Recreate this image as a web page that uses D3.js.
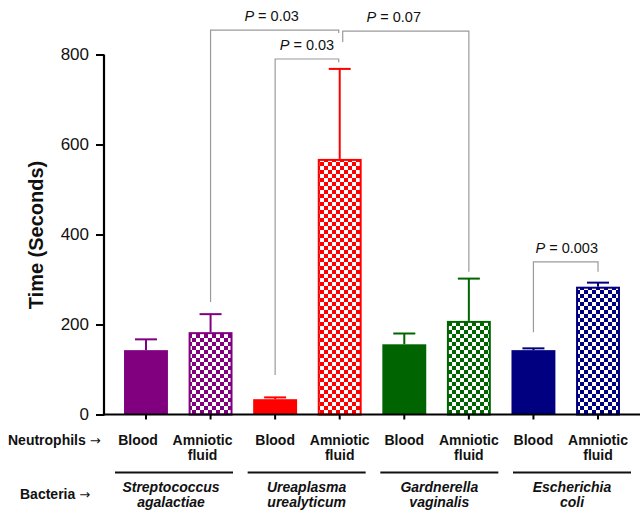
<!DOCTYPE html>
<html>
<head>
<meta charset="utf-8">
<script src="https://cdn.jsdelivr.net/npm/d3@7"></script>
<style>
  html, body { margin: 0; padding: 0; background: #fff; }
  svg { display: block; font-family: Arial, "Liberation Sans", sans-serif; }
</style>
</head>
<body>
<svg id="chart" width="641" height="513"></svg>
<script>
// ---- data ----
const bacteria = ["Streptococcus agalactiae", "Ureaplasma urealyticum", "Gardnerella vaginalis", "Escherichia coli"];
const bacteriaLines = [["Streptococcus", "agalactiae"], ["Ureaplasma", "urealyticum"], ["Gardnerella", "vaginalis"], ["Escherichia", "coli"]];
const neutrophils = ["Blood", "Amniotic fluid"];
const neutrophilLines = [["Blood"], ["Amniotic", "fluid"]];
const bloodMeans = [143, 34, 156, 143];
const bloodErr = [24, 4, 24, 4];
const fluidMeans = [183, 568, 208, 284];
const fluidErr = [40, 200, 94, 9];
const colors = ["#800080", "#ff0000", "#006400", "#000080"];
const yTicks = [0, 200, 400, 600, 800];
// significance brackets: [fromBar, toBar, label, topValue, leftLegBottom, rightLegBottom]
const brackets = [
  ["S-AF", "U-AF", "0.03", 854, 250, 848],
  ["U-B", "U-AF", "0.03", 790, 88, 783],
  ["U-AF", "G-AF", "0.07", 852, 828, 317],
  ["E-B", "E-AF", "0.003", 339, 183, 317]
];

// ---- build rows ----
const codes = ["S", "U", "G", "E"];
const rows = [];
codes.forEach((c, i) => {
  rows.push({ key: c + "-B", group: i, type: 0, mean: bloodMeans[i], err: bloodErr[i], color: colors[i] });
  rows.push({ key: c + "-AF", group: i, type: 1, mean: fluidMeans[i], err: fluidErr[i], color: colors[i] });
});

const svg = d3.select("#chart");
const y = d3.scaleLinear().domain([0, 800]).range([414.5, 54.5]);
const x = d3.scaleBand().domain(rows.map(d => d.key)).range([113.7, 630.3]).paddingInner(0.32).paddingOuter(0.16);
const gx = d3.scalePoint().domain(bacteria).range([174, 572]);
const cx = k => x(k) + x.bandwidth() / 2;

// patterns
const defs = svg.append("defs");
colors.forEach((col, i) => {
  const p = defs.append("pattern").attr("id", "chk" + i)
    .attr("patternUnits", "userSpaceOnUse").attr("width", 8).attr("height", 8)
    .attr("x", 0).attr("y", 2);
  p.append("rect").attr("width", 8).attr("height", 8).attr("fill", "#fff");
  p.append("rect").attr("width", 4).attr("height", 4).attr("fill", col);
  p.append("rect").attr("x", 4).attr("y", 4).attr("width", 4).attr("height", 4).attr("fill", col);
});

// error bars
const eb = svg.append("g");
rows.forEach(d => {
  const c = cx(d.key);
  eb.append("line").attr("x1", c).attr("x2", c).attr("y1", y(d.mean)).attr("y2", y(d.mean + d.err))
    .attr("stroke", d.color).attr("stroke-width", 2);
  eb.append("line").attr("x1", c - 11).attr("x2", c + 11).attr("y1", y(d.mean + d.err)).attr("y2", y(d.mean + d.err))
    .attr("stroke", d.color).attr("stroke-width", 2);
});

// bars
svg.append("g").selectAll("rect").data(rows).join("rect")
  .attr("x", d => x(d.key) + (d.type ? 1 : 0))
  .attr("width", d => x.bandwidth() - (d.type ? 2 : 0))
  .attr("y", d => y(d.mean) + (d.type ? 1 : 0))
  .attr("height", d => y(0) - y(d.mean) - (d.type ? 1 : 0))
  .attr("fill", d => d.type ? "url(#chk" + d.group + ")" : d.color)
  .attr("stroke", d => d.type ? d.color : "none")
  .attr("stroke-width", 2);

// y axis
const yAxis = svg.append("g").attr("transform", "translate(104,0)")
  .call(d3.axisLeft(y).tickValues(yTicks).tickSize(8).tickPadding(7).tickFormat(d3.format("d")));
yAxis.select(".domain").attr("stroke", "#000").attr("stroke-width", 2.2).attr("d", "M0," + y(800) + "V" + (y(0) + 1));
yAxis.selectAll(".tick line").attr("stroke", "#000").attr("stroke-width", 2);
yAxis.selectAll(".tick text").attr("font-size", 17).attr("fill", "#111").attr("font-family", "Arial, 'Liberation Sans', sans-serif");

// x axis
const xAxis = svg.append("g").attr("transform", "translate(0," + y(0) + ")")
  .call(d3.axisBottom(x).tickSize(5).tickFormat(""));
xAxis.select(".domain").attr("stroke", "#000").attr("stroke-width", 2.2).attr("d", "M103,0H640");
xAxis.selectAll(".tick line").attr("stroke", "#000").attr("stroke-width", 2);

// y title
svg.append("text").attr("transform", "translate(43,235) rotate(-90)")
  .attr("text-anchor", "middle").attr("font-size", 20).attr("font-weight", "bold").attr("fill", "#111")
  .text("Time (Seconds)");

// brackets
const labelNudge = { 0: -3, 1: 0, 2: -12, 3: 1 };
const legNudge = { "U-AF": [-1, 3] };
const bg = svg.append("g");
brackets.forEach((b, i) => {
  let x1 = cx(b[0]), x2 = cx(b[1]);
  if (legNudge[b[0]]) x1 += legNudge[b[0]][1];
  if (legNudge[b[1]]) x2 += legNudge[b[1]][0];
  const yt = y(b[3]);
  bg.append("path").attr("d", `M${x1},${y(b[4])}V${yt}H${x2}V${y(b[5])}`)
    .attr("fill", "none").attr("stroke", "#9a9a9a").attr("stroke-width", 1.2);
  const t = bg.append("text").attr("x", (x1 + x2) / 2 + labelNudge[i]).attr("y", yt - 9)
    .attr("text-anchor", "middle").attr("font-size", 14.5).attr("fill", "#111");
  t.append("tspan").attr("font-style", "italic").text("P");
  t.append("tspan").text(" = " + b[2]);
});

// neutrophil labels
const lab = svg.append("g").attr("font-weight", "bold").attr("font-size", 14).attr("fill", "#111");
rows.forEach(d => {
  const t = lab.append("text").attr("y", 445).attr("text-anchor", "middle");
  neutrophilLines[d.type].forEach((s, j) => t.append("tspan").attr("x", cx(d.key) - (d.group === 0 ? 8 : 0)).attr("dy", j ? 15 : 0).text(s));
});
const n1 = lab.append("text").attr("x", 8).attr("y", 445);
n1.append("tspan").text("Neutrophils ");
n1.append("tspan").attr("font-family", "'DejaVu Sans', sans-serif").attr("font-weight", "normal").attr("font-size", 13).text("\u2192");
const n2 = lab.append("text").attr("x", 20).attr("y", 499);
n2.append("tspan").text("Bacteria ");
n2.append("tspan").attr("font-family", "'DejaVu Sans', sans-serif").attr("font-weight", "normal").attr("font-size", 13).text("\u2192");

// bacteria group lines and names
bacteria.forEach((b, i) => {
  const c = gx(b);
  svg.append("line").attr("x1", c - 59).attr("x2", c + 59).attr("y1", 472.5).attr("y2", 472.5)
    .attr("stroke", "#111").attr("stroke-width", 2);
  const t = lab.append("text").attr("text-anchor", "middle").attr("font-style", "italic").attr("y", 492);
  bacteriaLines[i].forEach((s, j) => t.append("tspan").attr("x", c - (i === 0 ? 3 : 0)).attr("dy", j ? 15 : 0).text(s));
});
</script>
</body>
</html>
